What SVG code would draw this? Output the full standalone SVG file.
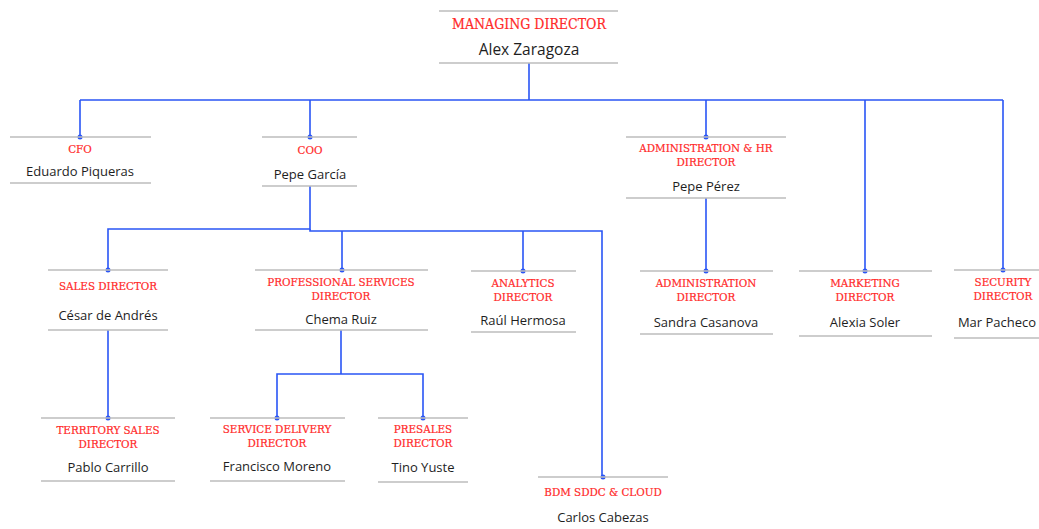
<svg xmlns="http://www.w3.org/2000/svg" width="1039" height="529" viewBox="0 0 1039 529">
<style>
.bg{fill:#ffffff}
.rule{stroke:#bdbdbd;stroke-width:1.6;fill:none}
.t{font-family:"DejaVu Serif Condensed","DejaVu Serif","Liberation Serif",serif;font-size:11.5px;fill:#ff2a2a;stroke:#ff2a2a;stroke-width:0.2;text-anchor:middle}
.n{font-family:"Open Sans","Liberation Sans",sans-serif;font-size:13px;font-weight:500;fill:#1e1e1e;text-anchor:middle}
.tb{font-size:14px}
.nb{font-size:15.5px}
.c{stroke:#2a55f5;stroke-width:1.6;fill:none}
.dot{fill:#2a55f5}
</style>
<rect class="bg" x="0" y="0" width="1039" height="529"/>
<g id="connectors">
<path class="c" d="M529,63V100M80,100H1003M80,100V137M310,100V137M706,100V137M865,100V271M1003,100V270"/>
<path class="c" d="M310,186V229H108V270"/>
<path class="c" d="M310,229V231H602V477M342,231V270M523,231V271"/>
<path class="c" d="M706,198V271"/>
<path class="c" d="M108,330V418"/>
<path class="c" d="M341,330V374H277V418M341,374H423V418"/>
<circle class="dot" cx="80" cy="137" r="2.5"/>
<circle class="dot" cx="310" cy="137" r="2.5"/>
<circle class="dot" cx="706" cy="137" r="2.5"/>
<circle class="dot" cx="108" cy="270" r="2.5"/>
<circle class="dot" cx="342" cy="270" r="2.5"/>
<circle class="dot" cx="523" cy="271" r="2.5"/>
<circle class="dot" cx="706" cy="271" r="2.5"/>
<circle class="dot" cx="865" cy="271" r="2.5"/>
<circle class="dot" cx="1003" cy="270" r="2.5"/>
<circle class="dot" cx="108" cy="418" r="2.5"/>
<circle class="dot" cx="277" cy="418" r="2.5"/>
<circle class="dot" cx="423" cy="418" r="2.5"/>
<circle class="dot" cx="603" cy="477" r="2.5"/>
</g>
<g id="md">
<path class="rule" d="M439,11H618M439,63H618"/>
<text class="t tb" x="529" y="29">MANAGING DIRECTOR</text>
<text class="n nb" x="529" y="55">Alex Zaragoza</text>
</g>
<g id="cfo">
<path class="rule" d="M10,137H151M10,183H151"/>
<text class="t" x="80" y="153">CFO</text>
<text class="n" x="80" y="176">Eduardo Piqueras</text>
</g>
<g id="coo">
<path class="rule" d="M262,137H357M262,186H357"/>
<text class="t" x="310" y="154">COO</text>
<text class="n" x="310" y="179">Pepe García</text>
</g>
<g id="adminhr">
<path class="rule" d="M626,137H786M626,198H786"/>
<text class="t" x="706" y="152">ADMINISTRATION &amp; HR</text>
<text class="t" x="706" y="166">DIRECTOR</text>
<text class="n" x="706" y="191">Pepe Pérez</text>
</g>
<g id="sales">
<path class="rule" d="M48,270H168M48,330H168"/>
<text class="t" x="108" y="290">SALES DIRECTOR</text>
<text class="n" x="108" y="320">César de Andrés</text>
</g>
<g id="ps">
<path class="rule" d="M255,270H428M255,330H428"/>
<text class="t" x="341" y="286">PROFESSIONAL SERVICES</text>
<text class="t" x="341" y="300">DIRECTOR</text>
<text class="n" x="341" y="324">Chema Ruiz</text>
</g>
<g id="analytics">
<path class="rule" d="M471,271H576M471,332H576"/>
<text class="t" x="523" y="287">ANALYTICS</text>
<text class="t" x="523" y="301">DIRECTOR</text>
<text class="n" x="523" y="325">Raúl Hermosa</text>
</g>
<g id="admin">
<path class="rule" d="M640,271H773M640,334H773"/>
<text class="t" x="706" y="287">ADMINISTRATION</text>
<text class="t" x="706" y="301">DIRECTOR</text>
<text class="n" x="706" y="327">Sandra Casanova</text>
</g>
<g id="marketing">
<path class="rule" d="M799,271H932M799,336H932"/>
<text class="t" x="865" y="287">MARKETING</text>
<text class="t" x="865" y="301">DIRECTOR</text>
<text class="n" x="865" y="327">Alexia Soler</text>
</g>
<g id="security">
<path class="rule" d="M954,270H1039M954,338H1039"/>
<text class="t" x="1003" y="286">SECURITY</text>
<text class="t" x="1003" y="300">DIRECTOR</text>
<text class="n" x="997" y="327">Mar Pacheco</text>
</g>
<g id="territory">
<path class="rule" d="M41,418H175M41,481H175"/>
<text class="t" x="108" y="434">TERRITORY SALES</text>
<text class="t" x="108" y="448">DIRECTOR</text>
<text class="n" x="108" y="472">Pablo Carrillo</text>
</g>
<g id="servicedelivery">
<path class="rule" d="M210,418H345M210,481H345"/>
<text class="t" x="277" y="433">SERVICE DELIVERY</text>
<text class="t" x="277" y="447">DIRECTOR</text>
<text class="n" x="277" y="471">Francisco Moreno</text>
</g>
<g id="presales">
<path class="rule" d="M378,418H468M378,482H468"/>
<text class="t" x="423" y="433">PRESALES</text>
<text class="t" x="423" y="447">DIRECTOR</text>
<text class="n" x="423" y="472">Tino Yuste</text>
</g>
<g id="bdm">
<path class="rule" d="M538,477H668"/>
<text class="t" x="603" y="496">BDM SDDC &amp; CLOUD</text>
<text class="n" x="603" y="522">Carlos Cabezas</text>
</g>
</svg>
